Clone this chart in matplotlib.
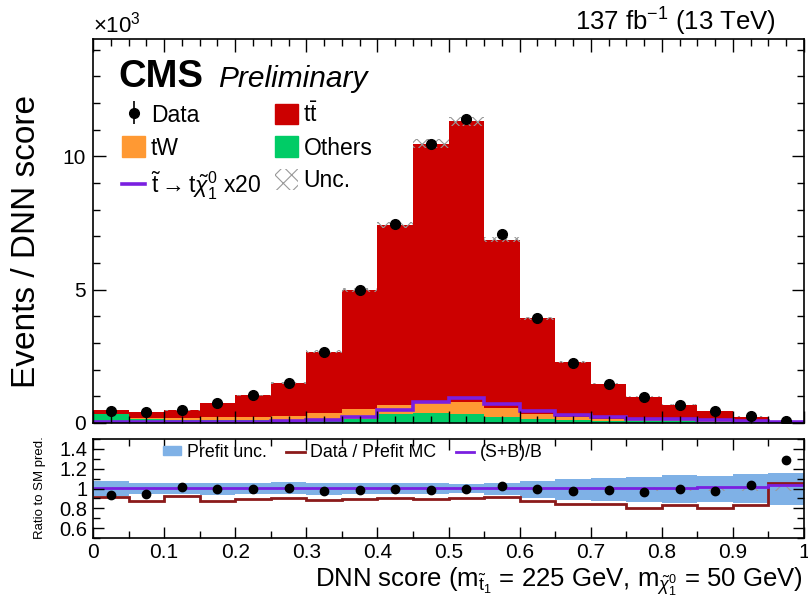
import numpy as np
import matplotlib.pyplot as plt
from matplotlib.patches import Patch
from matplotlib.lines import Line2D
from matplotlib.ticker import MultipleLocator, FixedLocator, FuncFormatter

plt.rcParams['font.family'] = ['Liberation Sans', 'DejaVu Sans']
plt.rcParams['mathtext.fontset'] = 'custom'
plt.rcParams['mathtext.rm'] = 'Liberation Sans'
plt.rcParams['mathtext.it'] = 'Liberation Sans:italic'
plt.rcParams['mathtext.bf'] = 'Liberation Sans:bold'
plt.rcParams['hatch.linewidth'] = 0.8

# DNN score binning
bin_edges = np.linspace(0.0, 1.0, 21)

# stacked backgrounds (events per bin)
others = [320, 150, 130, 130, 130, 130, 150, 160, 330, 360,
          330, 210, 150, 110, 90, 70, 60, 50, 40, 20]
tw = [20, 50, 70, 80, 100, 130, 220, 350, 350, 430,
      470, 370, 170, 100, 60, 50, 40, 30, 20, 10]
ttbar = [150, 210, 270, 540, 810, 1240, 2310, 4460, 6760, 9690,
         10520, 6300, 3600, 2070, 1320, 860, 590, 370, 180, 50]
# signal stop -> top neutralino, scaled x20
signal_x20 = [20, 20, 20, 30, 40, 60, 110, 240, 470, 780,
              920, 700, 450, 300, 210, 160, 140, 110, 90, 50]
data = [450, 400, 490, 750, 1040, 1510, 2680, 4970, 7480, 10460,
        11390, 7100, 3920, 2260, 1460, 970, 690, 450, 260, 90]
# relative post-fit uncertainty
post_unc = [0.015, 0.015, 0.015, 0.015, 0.015, 0.015, 0.015, 0.015, 0.015, 0.015,
            0.015, 0.015, 0.015, 0.015, 0.015, 0.02, 0.02, 0.02, 0.025, 0.03]

# ratio panel
ratio_data = [0.93, 0.94, 1.02, 1.00, 1.00, 1.01, 0.98, 0.99, 1.00, 0.99,
              1.00, 1.03, 1.00, 0.97, 0.99, 0.96, 1.00, 0.97, 1.04, 1.29]
prefit_ratio = [0.91, 0.87, 0.92, 0.87, 0.89, 0.90, 0.88, 0.89, 0.90, 0.89,
                0.90, 0.91, 0.87, 0.84, 0.84, 0.80, 0.83, 0.80, 0.83, 1.06]
prefit_up = [0.08, 0.06, 0.06, 0.06, 0.06, 0.07, 0.06, 0.06, 0.06, 0.06,
             0.05, 0.06, 0.08, 0.10, 0.11, 0.12, 0.14, 0.13, 0.15, 0.16]
prefit_dn = [0.08, 0.06, 0.06, 0.07, 0.06, 0.06, 0.07, 0.06, 0.06, 0.06,
             0.05, 0.07, 0.10, 0.12, 0.13, 0.14, 0.15, 0.14, 0.15, 0.17]

others = np.array(others, float)
tw = np.array(tw, float)
ttbar = np.array(ttbar, float)
signal_x20 = np.array(signal_x20, float)
data = np.array(data, float)
post_unc = np.array(post_unc)
centers = 0.5 * (bin_edges[1:] + bin_edges[:-1])
total = others + tw + ttbar
sb_ratio = 1 + signal_x20 / 20.0 / total

c_tt = '#cc0000'
c_tw = '#ff9933'
c_oth = '#00cc66'
c_sig = '#7a1fe0'
c_band = '#7fb1e6'
c_pre = '#8b1a1a'

fig = plt.figure(figsize=(8.08, 6.0), dpi=100)
ax = fig.add_axes([0.1151, 0.295, 0.880, 0.640])
rax = fig.add_axes([0.1151, 0.1033, 0.880, 0.165])

# upper panel: stacked histogram
ax.stairs(total / 1e3, bin_edges, baseline=0, fill=True, color=c_tt)
ax.stairs((tw + others) / 1e3, bin_edges, baseline=0, fill=True, color=c_tw)
ax.stairs(others / 1e3, bin_edges, baseline=0, fill=True, color=c_oth)
ax.stairs(total * (1 + post_unc) / 1e3, bin_edges, baseline=total * (1 - post_unc) / 1e3,
          fill=True, facecolor='none', edgecolor='#999999', hatch='xxx', linewidth=0)
ax.stairs(signal_x20 / 1e3, bin_edges, baseline=None, color=c_sig, linewidth=2.6)
ax.errorbar(centers, data / 1e3, yerr=np.sqrt(data) / 1e3, fmt='o', color='k',
            ms=7, elinewidth=1.2, capsize=0, zorder=5)

ax.set_xlim(0, 1)
ax.set_ylim(0, 14.4)
ax.xaxis.set_major_locator(MultipleLocator(0.1))
ax.xaxis.set_minor_locator(MultipleLocator(0.025))
ax.yaxis.set_major_locator(MultipleLocator(5))
ax.yaxis.set_minor_locator(MultipleLocator(1))
ax.tick_params(which='both', direction='in', top=True, right=True, labelbottom=False,
               labelsize=15, width=1)
ax.tick_params(which='major', length=9, pad=5)
ax.tick_params(which='minor', length=5)
for s in ax.spines.values():
    s.set_linewidth(1.2)

ax.text(0.035, 0.876, 'CMS', transform=ax.transAxes, fontsize=27.5, fontweight='bold',
        va='baseline', ha='left')
ax.text(0.176, 0.876, 'Preliminary', transform=ax.transAxes, fontsize=21.5,
        style='italic', va='baseline', ha='left')

h_data = ax.errorbar([], [], yerr=[], fmt='o', color='k', ms=7, elinewidth=1.2)
handles = [h_data,
           Patch(facecolor=c_tw, edgecolor=c_tw),
           Line2D([], [], color=c_sig, lw=2.6),
           Patch(facecolor=c_tt, edgecolor=c_tt),
           Patch(facecolor=c_oth, edgecolor=c_oth),
           Patch(facecolor='none', edgecolor='#999999', hatch='xx', lw=0)]
labels = ['Data', 'tW',
          r'$\tilde{\mathrm{t}}\rightarrow\mathrm{t}\tilde{\chi}^{0}_{1}$ x20',
          r'$\mathrm{t\bar{t}}$', 'Others', 'Unc.']
ax.legend(handles, labels, ncol=2, loc='upper left', bbox_to_anchor=(0.041, 0.835),
          frameon=False, fontsize=16.5, borderpad=0, borderaxespad=0,
          handlelength=1.0, handleheight=1.0, handletextpad=0.25,
          labelspacing=0.42, columnspacing=0.6)

# ratio panel
rax.stairs(1 + np.array(prefit_up), bin_edges, baseline=1 - np.array(prefit_dn),
           fill=True, color=c_band)
rax.stairs(1 + post_unc, bin_edges, baseline=1 - post_unc, fill=True,
           facecolor='none', edgecolor='#999999', hatch='x', linewidth=0)
rax.stairs(prefit_ratio, bin_edges, baseline=None, color=c_pre, linewidth=2)
rax.stairs(sb_ratio, bin_edges, baseline=None, color=c_sig, linewidth=2)
rax.plot(centers, ratio_data, 'o', color='k', ms=6, zorder=5)

rax.set_xlim(0, 1)
rax.set_ylim(0.5, 1.5)
rax.xaxis.set_major_locator(MultipleLocator(0.1))
rax.xaxis.set_minor_locator(MultipleLocator(0.05))
rax.yaxis.set_major_locator(FixedLocator([0.6, 0.8, 1.0, 1.2, 1.4]))
rax.yaxis.set_minor_locator(MultipleLocator(0.1))
rax.xaxis.set_major_formatter(FuncFormatter(lambda v, p: '%g' % round(v, 2)))
rax.yaxis.set_major_formatter(FuncFormatter(lambda v, p: '%g' % round(v, 2)))
rax.tick_params(which='both', direction='in', top=True, right=True, width=1)
rax.tick_params(axis='x', labelsize=15, pad=3.5)
rax.tick_params(axis='y', labelsize=14.5, pad=4)
rax.tick_params(which='major', length=8)
rax.tick_params(which='minor', length=5)
for s in rax.spines.values():
    s.set_linewidth(1.2)

rhandles = [Patch(facecolor=c_band, edgecolor=c_band),
            Line2D([], [], color=c_pre, lw=2),
            Line2D([], [], color=c_sig, lw=2)]
rax.legend(rhandles, ['Prefit unc.', 'Data / Prefit MC', '(S+B)/B'], ncol=3,
           loc='upper left', bbox_to_anchor=(0.098, 0.95), frameon=False, fontsize=12.8,
           borderpad=0, borderaxespad=0, handlelength=1.05, handleheight=0.4,
           handletextpad=0.3, columnspacing=1.1)

# labels and header texts
fig.text(27 / 808, 1 - 242 / 600, 'Events / DNN score', rotation=90,
         ha='center', va='center', fontsize=24)
fig.text(40 / 808, 1 - 488 / 600, 'Ratio to SM pred.', rotation=90,
         ha='center', va='center', fontsize=9.5)
fig.text(803 / 808, 1 - 587 / 600,
         r'DNN score (m$_{\tilde{\mathrm{t}}_{1}}$ = 225 GeV, m$_{\tilde{\chi}^{0}_{1}}$ = 50 GeV)',
         ha='right', va='baseline', fontsize=18.5)
fig.text(93 / 808, 1 - 37 / 600, r'$\times$10$^{3}$', ha='left', va='bottom', fontsize=16)
fig.text(776 / 808, 1 - 22 / 600, r'137 fb$^{-1}$ (13 TeV)', ha='right', va='center',
         fontsize=18.5)

fig.savefig('out.png', dpi=100)
